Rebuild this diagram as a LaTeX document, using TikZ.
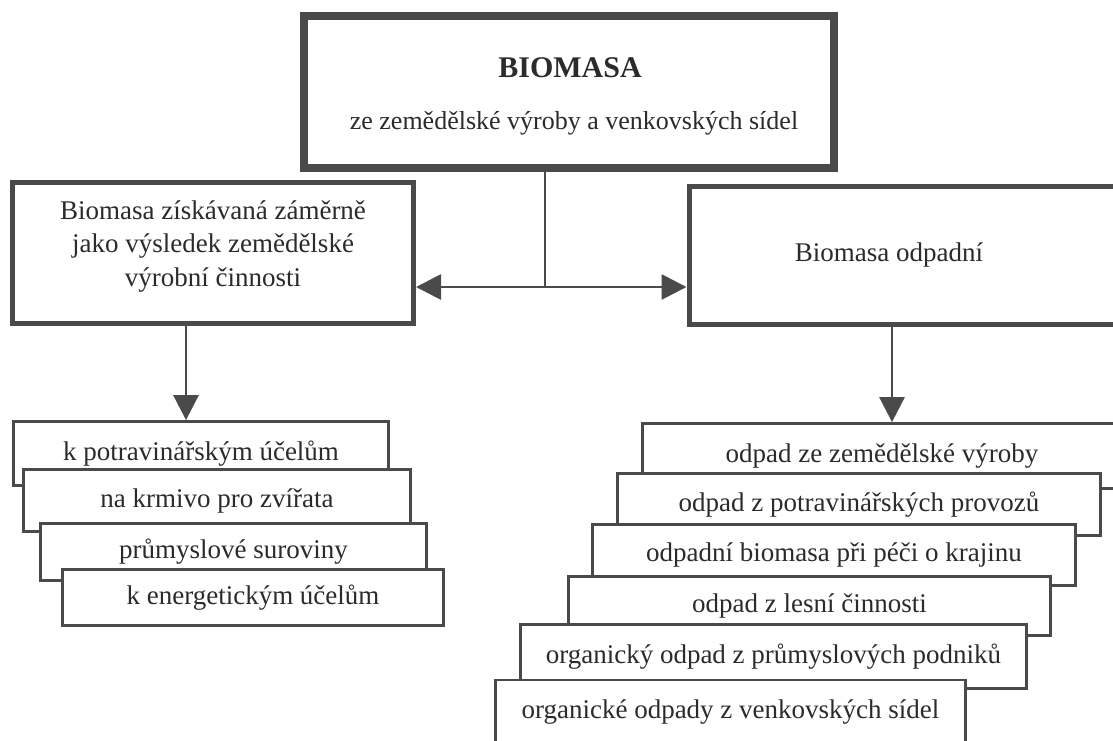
\documentclass[tikz,border=0pt]{standalone}
\usepackage{fontspec}
\setmainfont{Liberation Serif}
\usetikzlibrary{arrows.meta}
\definecolor{ink}{HTML}{4A4A4A}
\definecolor{txt}{HTML}{2B2B2B}
\begin{document}
\begin{tikzpicture}[x=1pt,y=-1pt,
  topbox/.style={draw=ink, fill=white, line width=8pt, inner sep=0pt},
  midbox/.style={draw=ink, fill=white, line width=5pt, inner sep=0pt},
  stk/.style={draw=ink, fill=white, line width=2.8pt, inner sep=0pt, text=txt,
    font=\fontsize{27}{33}\selectfont},
  lbl/.style={text=txt, font=\fontsize{27}{33.5}\selectfont, align=center, inner sep=0pt},
  conn/.style={draw=ink, line width=2.2pt},
  arr/.style={draw=ink, line width=2.8pt, -{Triangle[length=25pt,width=25pt]}}]
\useasboundingbox (0,0) rectangle (1113,740);
\fill[white] (0,0) rectangle (1113,740);

% top box
\node[topbox, minimum width=530pt, minimum height=152pt] (top) at (569,92) {};
\node[lbl, font=\bfseries\fontsize{30}{36}\selectfont] (t1) at (570,68) {BIOMASA};
\node[lbl, font=\fontsize{26}{32}\selectfont] (t2) at (574,123) {ze zemědělské výroby a venkovských sídel};

% second level
\node[midbox, minimum width=401pt, minimum height=141pt] (lb) at (213,253) {};
\node[lbl] (lbt) at (213,246.5) {Biomasa získávaná záměrně\\jako výsledek zemědělské\\výrobní činnosti};
\node[midbox, minimum width=436pt, minimum height=138pt] (rb) at (907,255.5) {};
\node[lbl] (rbt) at (889,255) {Biomasa odpadní};

\coordinate (j) at (545,287);
\draw[conn] (top.south -| j) -- (j);
\draw[arr] (j) -- (lb.east |- j);
\draw[arr] (j) -- (rb.west |- j);

% left stack
\node[stk, minimum width=375pt, minimum height=64pt] (l1) at (201,453.5) {k potravinářským účelům};
\node[stk, minimum width=387pt, minimum height=62pt] (l2) at (217,500.5) {na krmivo pro zvířata};
\node[stk, minimum width=386pt, minimum height=57pt] (l3) at (233.5,552) {průmyslové suroviny};
\node[stk, minimum width=381pt, minimum height=56pt] (l4) at (253,597.5) {k energetickým účelům};

% right stack
\node[stk, minimum width=479pt, minimum height=65pt] (r1) at (882,456) {odpad ze zemědělské výroby};
\node[stk, minimum width=483pt, minimum height=62pt] (r2) at (859,504.5) {odpad z potravinářských provozů};
\node[stk, minimum width=483pt, minimum height=61pt] (r3) at (834,555) {odpadní biomasa při péči o krajinu};
\node[stk, minimum width=482pt, minimum height=59pt] (r4) at (809.5,606) {odpad z lesní činnosti};
\node[stk, minimum width=506pt, minimum height=64pt] (r5) at (773.5,656.5) {organický odpad z průmyslových podniků};
\node[stk, minimum width=470pt, minimum height=64pt] (r6) at (730.5,712) {organické odpady z venkovských sídel};

% down arrows
\draw[arr] ([xshift=-27pt]lb.south) -- ([xshift=-27pt]lb.south |- l1.north);
\draw[arr] ([xshift=-15pt]rb.south) -- ([xshift=-15pt]rb.south |- r1.north);
\end{tikzpicture}
\end{document}
